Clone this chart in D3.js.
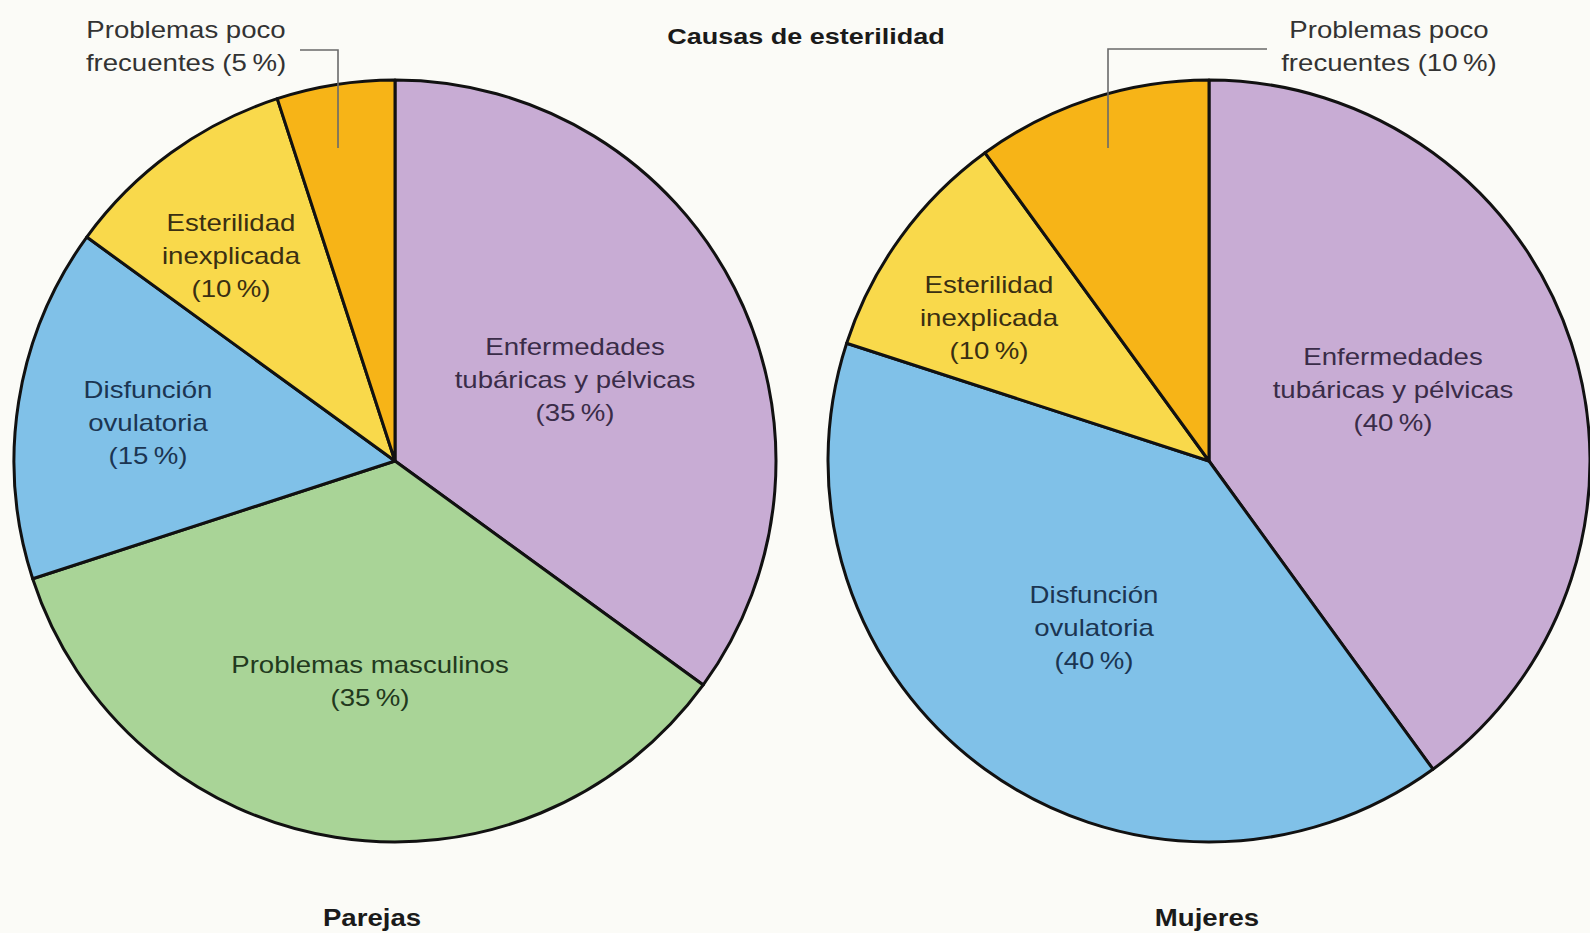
<!DOCTYPE html>
<html>
<head>
<meta charset="utf-8">
<script src="https://cdn.jsdelivr.net/npm/d3@7/dist/d3.min.js"></script>
<style>
  html, body { margin: 0; padding: 0; background: #fbfbf7; }
  svg { display: block; }
</style>
</head>
<body>
<script>
// ---- Data ----
const title = "Causas de esterilidad";
const categoriesParejas = ["Enfermedades tubáricas y pélvicas", "Problemas masculinos", "Disfunción ovulatoria", "Esterilidad inexplicada", "Problemas poco frecuentes"];
const valuesParejas = [35, 35, 15, 10, 5];
const labelLinesParejas = [["Enfermedades", "tubáricas y pélvicas"], ["Problemas masculinos"], ["Disfunción", "ovulatoria"], ["Esterilidad", "inexplicada"], ["Problemas poco", "frecuentes"]];
const categoriesMujeres = ["Enfermedades tubáricas y pélvicas", "Disfunción ovulatoria", "Esterilidad inexplicada", "Problemas poco frecuentes"];
const valuesMujeres = [40, 40, 10, 10];
const labelLinesMujeres = [["Enfermedades", "tubáricas y pélvicas"], ["Disfunción", "ovulatoria"], ["Esterilidad", "inexplicada"], ["Problemas poco", "frecuentes"]];
const pieTitles = ["Parejas", "Mujeres"];

// ---- Styles ----
const colorOf = {
  "Enfermedades tubáricas y pélvicas": "#c8acd4",
  "Problemas masculinos": "#a9d497",
  "Disfunción ovulatoria": "#80c1e8",
  "Esterilidad inexplicada": "#f9d94b",
  "Problemas poco frecuentes": "#f7b417"
};
const textColorOf = {
  "Enfermedades tubáricas y pélvicas": "#3a2c48",
  "Problemas masculinos": "#22391d",
  "Disfunción ovulatoria": "#1b3552",
  "Esterilidad inexplicada": "#3a2f12",
  "Problemas poco frecuentes": "#333333"
};

const W = 1590, H = 933;
const R = 381;
const FONT = "'Liberation Sans', Arial, Helvetica, sans-serif";
const SX = 1.2;   // horizontal stretch of the lettering
const FS = 23;

const svg = d3.select("body").append("svg").attr("width", W).attr("height", H);
svg.append("rect").attr("width", W).attr("height", H).attr("fill", "#fbfbf7");

function stretchedText(g, x, y, str, opts) {
  return g.append("text")
    .attr("transform", `translate(${x},${y}) scale(${SX},1)`)
    .attr("text-anchor", opts.anchor || "middle")
    .attr("font-family", FONT)
    .attr("font-size", opts.size || FS)
    .attr("font-weight", opts.weight || "normal")
    .attr("fill", opts.fill || "#222")
    .text(str);
}

function drawPie(cx, cy, cats, vals, lines, labelPos, outside) {
  const data = cats.map((c, i) => ({ cat: c, value: vals[i], lines: lines[i] }));
  const pie = d3.pie().sort(null).value(d => d.value).startAngle(0).endAngle(2 * Math.PI);
  const arc = d3.arc().innerRadius(0).outerRadius(R);
  const g = svg.append("g").attr("transform", `translate(${cx},${cy})`);
  g.selectAll("path").data(pie(data)).join("path")
    .attr("d", arc)
    .attr("fill", d => colorOf[d.data.cat])
    .attr("stroke", "#111")
    .attr("stroke-width", 3)
    .attr("stroke-linejoin", "round");

  const lg = svg.append("g");
  data.forEach((d, i) => {
    const p = labelPos[i];
    const all = d.lines.slice();
    const pct = `(${d.value}\u2009%)`;
    if (p.inline) all[all.length - 1] = all[all.length - 1] + " " + pct; else all.push(pct);
    all.forEach((t, k) => {
      stretchedText(lg, p.x, p.y + k * 33, t, { fill: textColorOf[d.cat] });
    });
  });
  if (outside) {
    svg.append("path")
      .attr("d", d3.line()(outside))
      .attr("fill", "none")
      .attr("stroke", "#6a6a6a")
      .attr("stroke-width", 1.6);
  }
}

// Parejas
drawPie(395, 461, categoriesParejas, valuesParejas, labelLinesParejas, [
  { x: 575, y: 355 },
  { x: 370, y: 673 },
  { x: 148, y: 398 },
  { x: 231, y: 231 },
  { x: 186, y: 38, inline: true }
], [[300, 50], [338, 50], [338, 148]]);

// Mujeres
drawPie(1209, 461, categoriesMujeres, valuesMujeres, labelLinesMujeres, [
  { x: 1393, y: 365 },
  { x: 1094, y: 603 },
  { x: 989, y: 293 },
  { x: 1389, y: 38, inline: true }
], [[1267, 49], [1108, 49], [1108, 148]]);

// Titles
stretchedText(svg, 806, 44, title, { weight: "bold", size: 22.5, fill: "#1a1a1a" });
stretchedText(svg, 372, 926, pieTitles[0], { weight: "bold", size: 23, fill: "#1a1a1a" });
stretchedText(svg, 1207, 926, pieTitles[1], { weight: "bold", size: 23, fill: "#1a1a1a" });
</script>
</body>
</html>
